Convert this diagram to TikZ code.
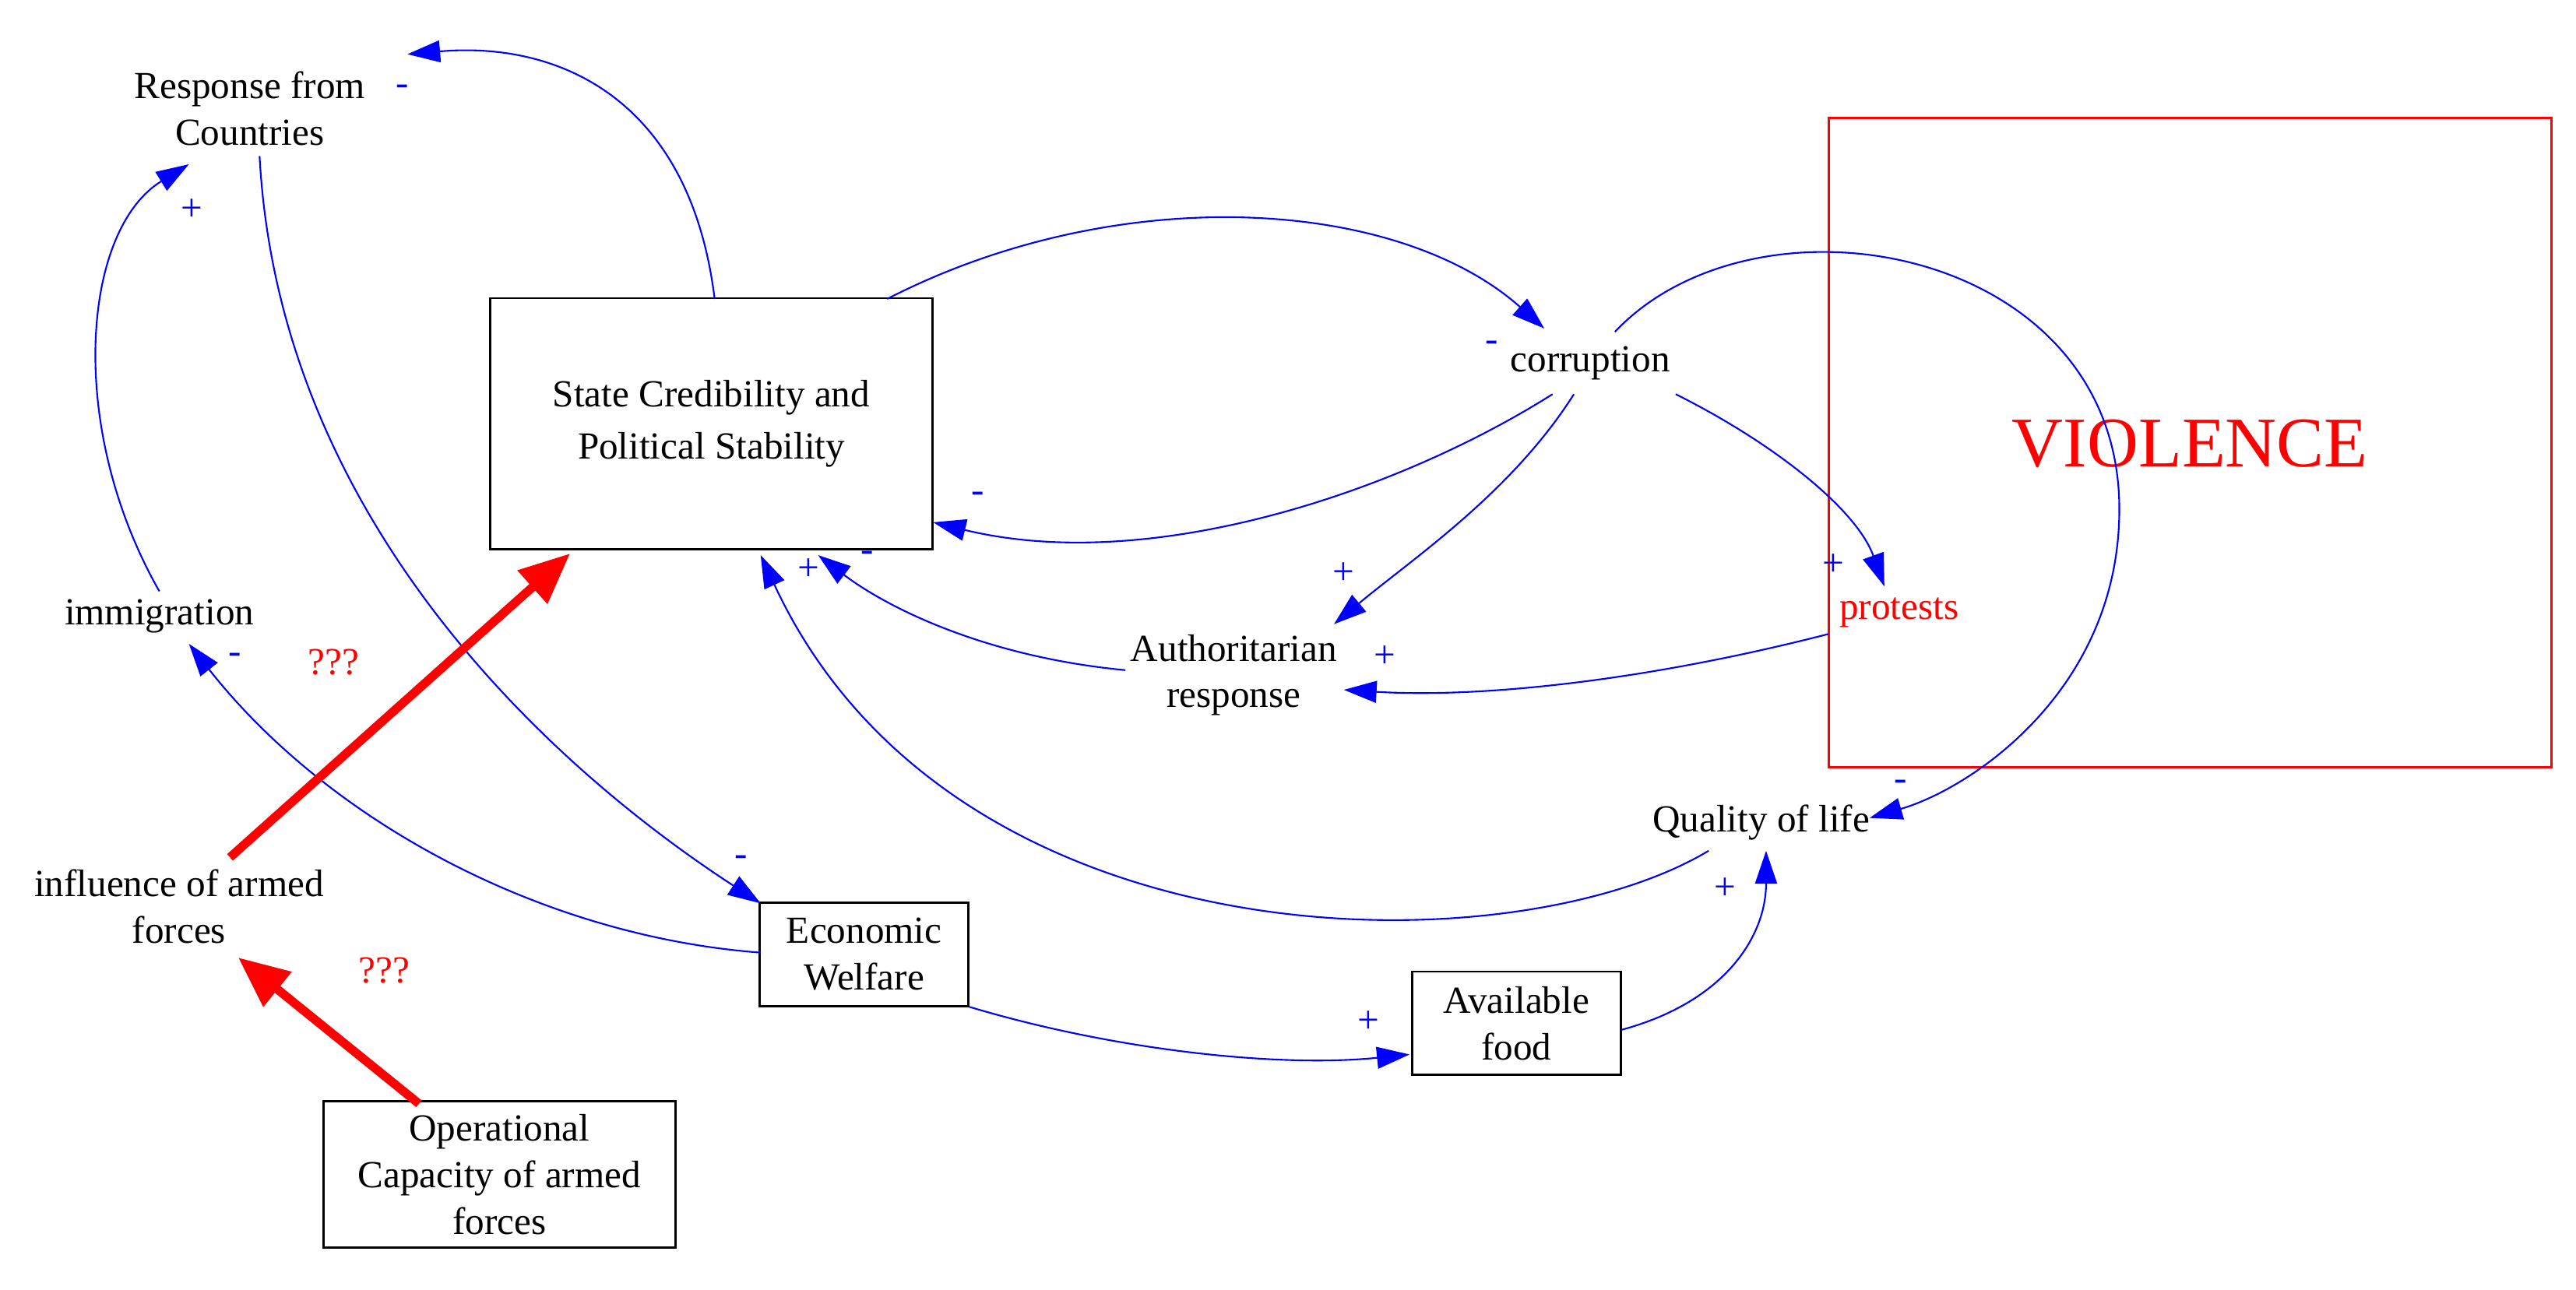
\documentclass[tikz,border=0pt]{standalone}
\usepackage{fontspec}
\setmainfont{Liberation Serif}
\usetikzlibrary{arrows.meta}
\begin{document}
\begin{tikzpicture}[x=0.0211cm,y=-0.0211cm,
  every node/.style={font=\fontsize{14}{17}\selectfont,align=center},
  box/.style={draw,thick,inner sep=0},
  lnk/.style={draw=blue,line width=0.6pt,-{Triangle[length=4.2mm,width=2.8mm]},fill=none},
  red link/.style={draw=red,line width=3.2pt,-{Triangle[length=6.5mm,width=5.5mm]}},
  pol/.style={text=blue,font=\fontsize{14}{16}\selectfont},
  rq/.style={text=red}]
\useasboundingbox (0,0) rectangle (1568,785);
% boxes
\node[box,minimum width=269*0.0211cm,minimum height=153*0.0211cm] (sc) at (433,258) {State Credibility and\\[2pt]Political Stability};
\node[box,minimum width=127*0.0211cm,minimum height=63*0.0211cm] (ew) at (526,581) {Economic\\Welfare};
\node[box,minimum width=127*0.0211cm,minimum height=63*0.0211cm] (af) at (923,623) {Available\\food};
\node[box,minimum width=214*0.0211cm,minimum height=89*0.0211cm] (oc) at (304,715) {Operational\\Capacity of armed\\forces};
\draw[red,line width=0.8pt] (1113,72) rectangle (1553,467);
\node[text=red,font=\fontsize{26}{30}\selectfont] (vi) at (1333,270) {VIOLENCE};
% text nodes
\node (rc) at (152,66) {Response from\\Countries};
\node (co) at (968,221) {corruption};
\node[text=red] (pr) at (1156,373) {protests};
\node (ar) at (751,411) {Authoritarian\\response};
\node (im) at (97,375) {immigration};
\node (ia) at (109,552) {influence of armed\\forces};
\node (ql) at (1072,501) {Quality of life};
\node[rq] (q1) at (203,403) {???};
\node[rq] (q2) at (234,591) {???};
% polarity
\node[pol] at (245,55) {-};
\node[pol] at (117,128) {+};
\node[pol] at (908,211) {-};
\node[pol] at (1116,344) {+};
\node[pol] at (818,349) {+};
\node[pol] at (843,400) {+};
\node[pol] at (143,401) {-};
\node[pol] at (451,524) {-};
\node[pol] at (833,622) {+};
\node[pol] at (1157,478) {-};
\node[pol] at (1050,541) {+};
\node[pol] at (595,303) {-};
\node[pol] at (492,347) {+};
\node[pol] at (528,339) {-};
% endpoints
\coordinate (sctop) at (435,182);
\coordinate (rcin) at (248,33);
\coordinate (imtop) at (97,360);
\coordinate (rcin2) at (115,100);
\coordinate (rcout) at (158,95);
\coordinate (ewin) at (463,550);
\coordinate (ewl) at (463,580);
\coordinate (imin) at (115,392);
\coordinate (sctr) at (540,182);
\coordinate (coin) at (940,200);
\coordinate (coout) at (945,240);
\coordinate (scin1) at (568,318);
\coordinate (coout2) at (958,240);
\coordinate (arin) at (812,380);
\coordinate (coout3) at (1020,240);
\coordinate (prin) at (1147,357);
\coordinate (coout4) at (983,202);
\coordinate (qlin) at (1138,498);
\coordinate (prout) at (1113,386);
\coordinate (arin2) at (818,420);
\coordinate (arout) at (685,408);
\coordinate (scin2) at (498,338);
\coordinate (qlout) at (1040,518);
\coordinate (scin3) at (463,338);
\coordinate (ewr) at (590,613);
\coordinate (afin) at (858,642);
\coordinate (afr) at (987,627);
\coordinate (qlin2) at (1075,518);
\coordinate (iaout) at (140,522);
\coordinate (scin4) at (347,337);
\coordinate (ocout) at (255,672);
\coordinate (iain) at (145,583);
% links
\draw[lnk] (sctop) .. controls (420,60) and (340,25) .. (rcin);
\draw[lnk] (imtop) .. controls (40,260) and (50,140) .. (rcin2);
\draw[lnk] (rcout) .. controls (170,320) and (340,470) .. (ewin);
\draw[lnk] (ewl) .. controls (330,570) and (200,500) .. (imin);
\draw[lnk] (sctr) .. controls (680,110) and (850,120) .. (coin);
\draw[lnk] (coout) .. controls (850,300) and (700,350) .. (scin1);
\draw[lnk] (coout2) .. controls (920,300) and (860,340) .. (arin);
\draw[lnk] (coout3) .. controls (1080,270) and (1130,310) .. (prin);
\draw[lnk] (coout4) .. controls (1070,110) and (1290,150) .. (1290,310) .. controls (1290,420) and (1200,480) .. (qlin);
\draw[lnk] (prout) .. controls (1000,415) and (900,425) .. (arin2);
\draw[lnk] (arout) .. controls (600,400) and (540,370) .. (scin2);
\draw[lnk] (qlout) .. controls (920,590) and (580,590) .. (scin3);
\draw[lnk] (ewr) .. controls (680,640) and (780,650) .. (afin);
\draw[lnk] (afr) .. controls (1050,610) and (1075,570) .. (qlin2);
\draw[red link] (iaout) -- (scin4);
\draw[red link] (ocout) -- (iain);
\end{tikzpicture}
\end{document}
